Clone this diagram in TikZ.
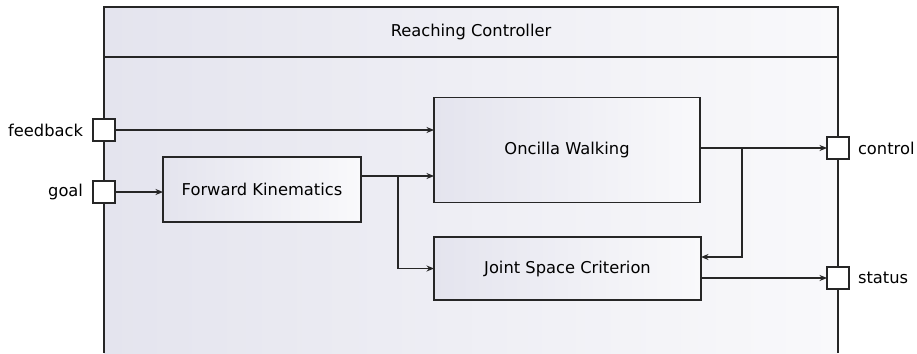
\documentclass[tikz,border=0pt]{standalone}
\usepackage{fontspec}
\setmainfont{DejaVu Sans}
\usetikzlibrary{arrows.meta,calc}
\definecolor{shdark}{RGB}{228,228,238}
\definecolor{shlight}{RGB}{249,249,251}
\begin{document}
\begin{tikzpicture}[x=1pt,y=-1pt,
  font=\fontsize{16.3}{19}\selectfont,
  every node/.style={inner sep=0pt,outer sep=0pt},
  ln/.style={line width=1.2pt,black!85},
  arr/.style={ln,-{Stealth[length=7.5pt,width=6pt]}},
  blockbox/.style={draw=black!85,line width=1.2pt,left color=shdark,right color=shlight,shading angle=90},
  portbox/.style={draw=black!85,line width=1.2pt,fill=white,minimum width=22pt,minimum height=22pt},
  lbl/.style={text=black}
]
\useasboundingbox (0,0) rectangle (917,353);
% outer frame
\shade[left color=shdark,right color=shlight] (104,7) rectangle (838,353);
\draw[ln] (104,353) -- (104,7) -- (838,7) -- (838,353);
\draw[ln] (104,57) -- (838,57);
\node[lbl] (title) at (471,32) {Reaching Controller};
% blocks
\node[blockbox,minimum width=198pt,minimum height=65pt] (fk) at (262,189.5) {Forward Kinematics};
\node[blockbox,minimum width=266pt,minimum height=105pt] (ow) at (567,150) {Oncilla Walking};
\node[blockbox,minimum width=267pt,minimum height=63pt] (jsc) at (567.5,268.5) {Joint Space Criterion};
% ports
\node[portbox] (fb) at (104,130) {};
\node[portbox] (goal) at (104,192) {};
\node[portbox] (ctl) at (838,148) {};
\node[portbox] (st) at (838,278) {};
\node[lbl,anchor=east] (fbl) at ($(fb.west)+(-10,0)$) {feedback};
\node[lbl,anchor=east] (goall) at ($(goal.west)+(-10,0)$) {goal};
\node[lbl,anchor=west] (ctll) at ($(ctl.east)+(9,0)$) {control};
\node[lbl,anchor=west] (stl) at ($(st.east)+(9,0)$) {status};
% connectors
\draw[arr] (fb.east) -- (fb.east -| ow.west);
\draw[arr] (goal.east) -- (goal.east -| fk.west);
\coordinate (fkj) at (398,176);
\draw[ln] (fkj -| fk.east) -- (fkj);
\draw[arr] (fkj) -- (fkj -| ow.west);
\draw[arr] (fkj) |- (jsc.west);
\coordinate (owj) at (742,148);
\draw[arr] (owj -| ow.east) -- (ctl.west);
\draw[arr] (owj) |- ($(jsc.east)+(0,-11.5)$);
\draw[arr] (st.west -| jsc.east) -- (st.west);
\end{tikzpicture}
\end{document}
